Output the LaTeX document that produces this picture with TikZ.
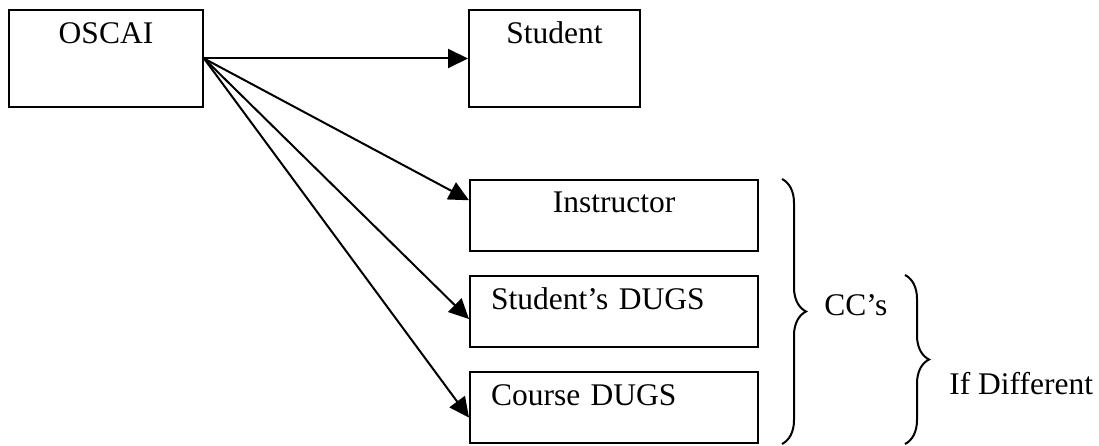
\documentclass[tikz,border=0pt]{standalone}
\usepackage{fontspec}
\setmainfont{Liberation Serif}
\usetikzlibrary{arrows.meta,decorations.pathreplacing}

\begin{document}
\begin{tikzpicture}[x=1pt,y=-1pt,
    font=\fontsize{31.5pt}{38pt}\selectfont,
    box/.style={draw,line width=2pt,inner sep=0pt},
    topbox/.style={box,text height=34pt,text depth=63pt},
    listbox/.style={box,text height=33pt,text depth=38pt,text width=246pt,inner xsep=21pt},
    arr/.style={line width=2pt,-{Triangle[length=20pt,width=19pt]}},
    brc/.style={line width=2pt,decorate,decoration={brace,amplitude=24pt}}]
  \useasboundingbox (0,0) rectangle (1099,446);
  \node[topbox,minimum width=194pt,anchor=base] (oscai) at (106,44) {OSCAI};
  \node[topbox,minimum width=171pt,anchor=base] (student) at (554.5,44) {Student};
  \node[listbox,align=center,anchor=base west] (instr) at (469,213) {Instructor};
  \node[listbox,align=left,anchor=base west] (sdugs) at (469,309) {Student’s DUGS};
  \node[listbox,align=left,anchor=base west] (cdugs) at (469,405) {Course DUGS};
  \draw[arr] (oscai.east) -- (student.west);
  \draw[arr] (oscai.east) -- (instr.174);
  \draw[arr] (oscai.east) -- (sdugs.183);
  \draw[arr] (oscai.east) -- (cdugs.184);
  \draw[brc] ([xshift=23pt]instr.north east) -- ([xshift=23pt]cdugs.south east)
    node[midway,anchor=base west,xshift=38pt,yshift=-3.5pt] (cc) {CC’s};
  \draw[brc] ([xshift=146pt]sdugs.north east) -- ([xshift=146pt]cdugs.south east)
    node[midway,anchor=base west,xshift=40pt,yshift=-35pt] (diff) {If Different};
\end{tikzpicture}
\end{document}
